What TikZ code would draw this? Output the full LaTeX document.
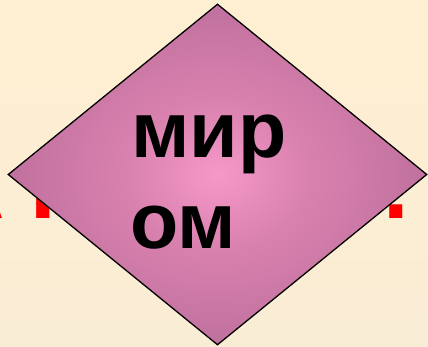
\documentclass[tikz,border=0pt]{standalone}
\usepackage{fontspec}
\setmainfont{Liberation Sans}
\usetikzlibrary{shapes.geometric}
\definecolor{bgtop}{HTML}{FFEFD2}
\definecolor{bgbot}{HTML}{FAEDD5}
\definecolor{dcenter}{HTML}{F598C8}
\definecolor{dmidA}{HTML}{D981AE}
\definecolor{dmidB}{HTML}{C272A0}
\definecolor{dmidC}{HTML}{AE678F}
\definecolor{dedge}{HTML}{9E6085}
\pgfdeclareradialshading{diamondshade}{\pgfpoint{0bp}{0bp}}{color(0bp)=(dcenter); color(11bp)=(dmidA); color(24bp)=(dmidB); color(34bp)=(dmidC); color(42bp)=(dedge); color(72bp)=(dedge)}
\tikzset{
  bigtext/.style={font=\bfseries\fontsize{79}{79}\selectfont, text=black, inner sep=0pt, anchor=base west},
  redtext/.style={font=\bfseries\fontsize{92}{92}\selectfont, text=red, inner sep=0pt, anchor=base west},
  rhombus/.style={diamond, draw=black, line width=1.3pt, inner sep=0pt, minimum width=419pt, minimum height=341pt, aspect=1.23, shading=diamondshade}
}
\begin{document}
\begin{tikzpicture}[x=1pt, y=-1pt]
\fill[top color=bgtop, bottom color=bgbot] (0,0) rectangle (428,347);
\useasboundingbox (0,0) rectangle (428,347);
\node[redtext] (hidden) at (-62,219) {А Письмо.};
\node[rhombus] (dia) at (217.5,174.5) {};
\node[bigtext] (t1) at (131,158) {мир};
\node[bigtext] (t2) at (130,248) {ом};
\end{tikzpicture}
\end{document}
